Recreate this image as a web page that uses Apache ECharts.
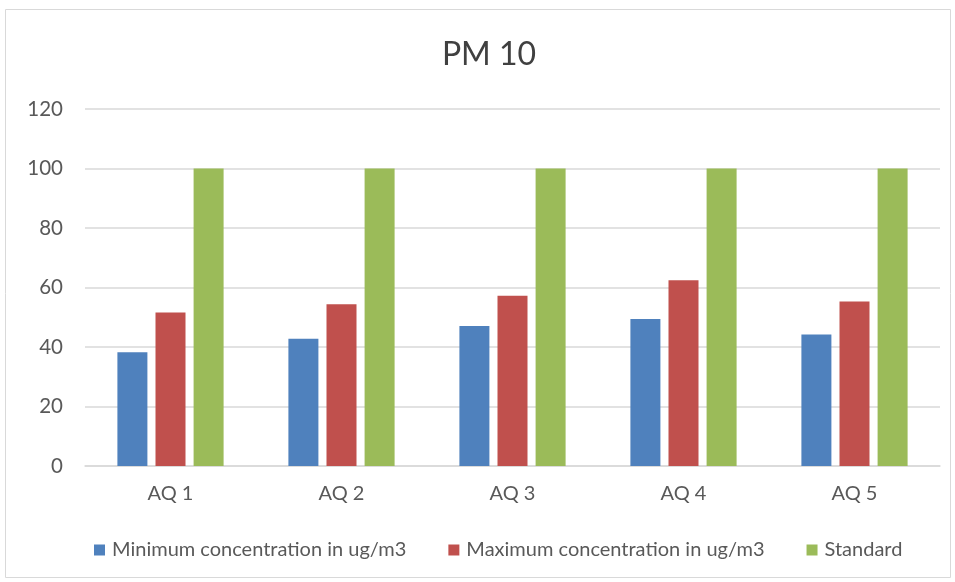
<!DOCTYPE html>
<html><head><meta charset="utf-8">
<script src="https://cdn.jsdelivr.net/npm/echarts@6/dist/echarts.min.js"></script>
<style>html,body{margin:0;padding:0;background:#fff}#c{width:955px;height:582px}</style>
</head><body><div id="c"></div>
<script>
const categories = ['AQ 1','AQ 2','AQ 3','AQ 4','AQ 5'];
const minConc = [38.2, 42.8, 47.1, 49.4, 44.2];
const maxConc = [51.6, 54.4, 57.2, 62.4, 55.3];
const standard = [100, 100, 100, 100, 100];
const seriesNames = ['Minimum concentration in ug/m3','Maximum concentration in ug/m3','Standard'];
const colors = ['#4F81BD','#C0504D','#9BBB59'];
const FONT = 'Lato';
const chart = echarts.init(document.getElementById('c'));
chart.setOption({
  animation:false,
  color: colors,
  graphic:[{type:'rect',shape:{x:5.5,y:9.5,width:945,height:568},style:{fill:'none',stroke:'#d9d9d9',lineWidth:1}}],
  title:{text:'PM 10',left:484,top:34,textAlign:'center',textStyle:{fontFamily:FONT,fontSize:32,fontWeight:'normal',color:'#404040'}},
  legend:{top:535,left:89,itemWidth:11,itemHeight:11,itemGap:42,icon:'rect',
    textStyle:{fontFamily:FONT,fontSize:20,color:'#595959',padding:[0,0,0,2]},data:seriesNames},
  grid:{left:85,right:15,top:109,bottom:116},
  xAxis:{type:'category',data:categories,axisTick:{show:false},
    axisLine:{lineStyle:{color:'#d9d9d9',width:1.5}},
    axisLabel:{fontFamily:FONT,fontSize:20,color:'#595959',margin:18}},
  yAxis:{type:'value',min:0,max:120,interval:20,
    axisLabel:{fontFamily:FONT,fontSize:20.5,color:'#595959',margin:22},
    splitLine:{lineStyle:{color:'#d9d9d9',width:1.5}}},
  series:[
    {name:seriesNames[0],type:'bar',data:minConc,barWidth:30,barGap:'27%'},
    {name:seriesNames[1],type:'bar',data:maxConc,barWidth:30,barGap:'27%'},
    {name:seriesNames[2],type:'bar',data:standard,barWidth:30,barGap:'27%'}
  ]
});
</script></body></html>
